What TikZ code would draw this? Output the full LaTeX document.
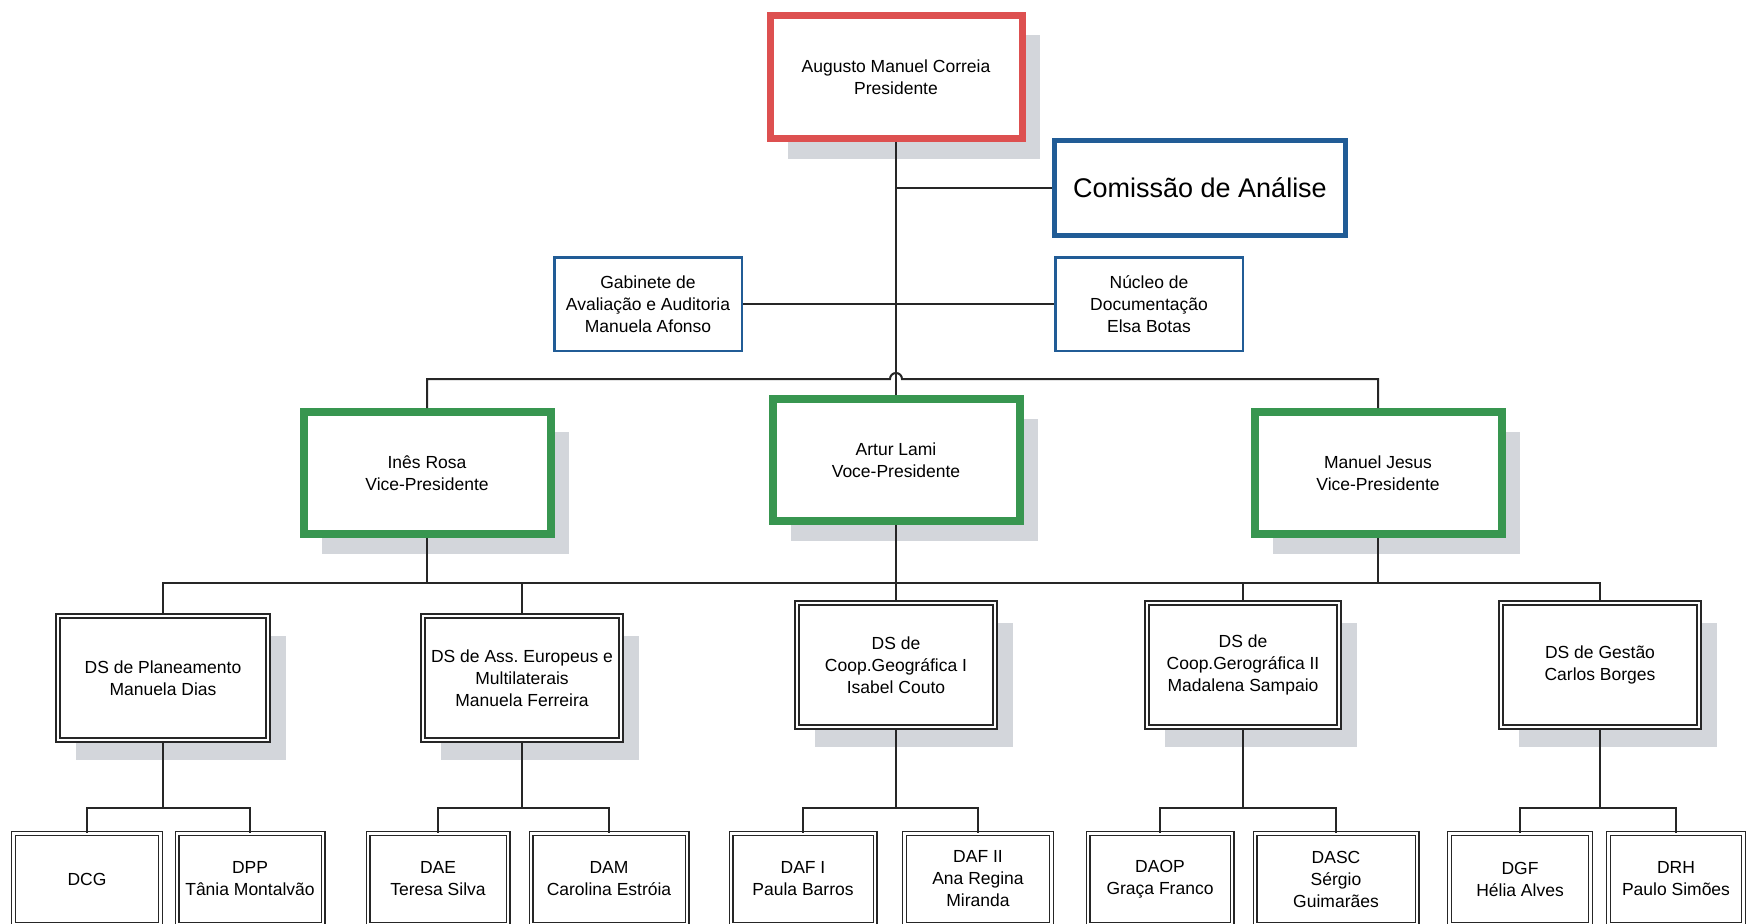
\documentclass[tikz,border=0pt]{standalone}
\usepackage{fontspec}
\setmainfont{Liberation Sans}
\usetikzlibrary{positioning,shadows}
\frenchspacing

\definecolor{presred}{RGB}{221,80,80}
\definecolor{comblue}{RGB}{33,92,150}
\definecolor{vpgreen}{RGB}{56,150,80}
\definecolor{shadegray}{RGB}{211,214,219}

\newcommand{\orgfont}{\fontsize{17.5}{22}\selectfont}

\tikzset{
  box/.style={draw, fill=white, align=center, font=\orgfont, inner sep=2pt},
  boxshadow/.style={drop shadow={shadow xshift=18pt, shadow yshift=-20pt, fill=shadegray, opacity=1}},
  presbox/.style={box, boxshadow, draw=presred, line width=7pt, minimum width=252pt, minimum height=123pt},
  combox/.style={box, draw=comblue, line width=5pt, minimum width=291pt, minimum height=95pt, font=\fontsize{27}{32}\selectfont},
  unitbox/.style={box, draw=comblue, line width=2.5pt, minimum width=187.5pt, minimum height=93.5pt},
  vpbox/.style={box, boxshadow, draw=vpgreen, line width=8pt, minimum width=247pt, minimum height=122pt},
  dsbox/.style={box, boxshadow, draw=black!85, double, line width=1.6pt, double distance=2.4pt, minimum height=124.5pt},
  depbox/.style={box, draw=black!85, double, line width=1.3pt, double distance=2.4pt, minimum height=91pt},
  link/.style={draw=black!85, line width=2pt}
}

\begin{document}
\begin{tikzpicture}[x=1pt, y=-1pt]
    \path[use as bounding box, fill=white] (0,0) rectangle (1747,923);

    % Presidencia
    \node[presbox] (pres) at (896,77) {Augusto Manuel Correia\\Presidente};
    \node[combox] (comis) at (1200,188) {Comissão de Análise};

    % Gabinete e Nucleo
    \node[unitbox] (gab) at (648,304) {Gabinete de\\Avaliação e Auditoria\\Manuela Afonso};
    \node[unitbox] (nuc) at (1149,304) {Núcleo de\\Documentação\\Elsa Botas};

    % Vice-presidentes
    \node[vpbox] (ines) at (427,473) {Inês Rosa\\Vice-Presidente};
    \node[vpbox] (artur) at (896,460) {Artur Lami\\Voce-Presidente};
    \node[vpbox] (manuel) at (1378,473) {Manuel Jesus\\Vice-Presidente};

    % Direccoes de servicos
    \node[dsbox, minimum width=210.5pt] (dsplan) at (163,678) {DS de Planeamento\\Manuela Dias};
    \node[dsbox, minimum width=197.5pt] (dseur) at (522,678) {DS de Ass. Europeus e\\Multilaterais\\Manuela Ferreira};
    \node[dsbox, minimum width=198.5pt] (dscoopa) at (896,665) {DS de\\Coop.Geográfica I\\Isabel Couto};
    \node[dsbox, minimum width=192.5pt] (dscoopb) at (1243,665) {DS de\\Coop.Gerográfica II\\Madalena Sampaio};
    \node[dsbox, minimum width=197.5pt] (dsgest) at (1600,665) {DS de Gestão\\Carlos Borges};

    % Direccoes
    \node[depbox, minimum width=147pt] (dcg) at (87,879) {DCG};
    \node[depbox, minimum width=146pt] (dpp) at (250,879) {DPP\\Tânia Montalvão};
    \node[depbox, minimum width=140pt] (dae) at (438,879) {DAE\\Teresa Silva};
    \node[depbox, minimum width=156pt] (dam) at (609,879) {DAM\\Carolina Estróia};
    \node[depbox, minimum width=144pt] (dafa) at (803,879) {DAF I\\Paula Barros};
    \node[depbox, minimum width=147pt] (dafb) at (978,879) {DAF II\\Ana Regina\\Miranda};
    \node[depbox, minimum width=144pt] (daop) at (1160,879) {DAOP\\Graça Franco};
    \node[depbox, minimum width=162pt] (dasc) at (1336,879) {DASC\\Sérgio\\Guimarães};
    \node[depbox, minimum width=141pt] (dgf) at (1520,879) {DGF\\Hélia Alves};
    \node[depbox, minimum width=135pt] (drh) at (1676,879) {DRH\\Paulo Simões};

    % Barramentos
    \coordinate (vpbus) at (896,379);
    \coordinate (dsbus) at (896,583);
    \coordinate (subbus) at (896,808);

    % Ligacoes topo
    \draw[link] (pres.south) -- (artur.north);
    \draw[link] (pres.south |- comis.west) -- (comis.west);
    \draw[link] (gab.east) -- (nuc.west);
    \draw[link] (ines.north) -- (ines.north |- vpbus) -- ([xshift=-6pt]vpbus)
        arc[start angle=180, end angle=360, radius=6] -- (manuel.north |- vpbus) -- (manuel.north);

    % Ligacoes vice-presidentes
    \draw[link] (ines.south) -- (ines.south |- dsbus);
    \draw[link] (artur.south) -- (artur.south |- dsbus);
    \draw[link] (manuel.south) -- (manuel.south |- dsbus);
    \draw[link] (dsplan.north) -- (dsplan.north |- dsbus) -- (dsgest.north |- dsbus) -- (dsgest.north);
    \draw[link] (dseur.north) -- (dseur.north |- dsbus);
    \draw[link] (dscoopa.north) -- (dscoopa.north |- dsbus);
    \draw[link] (dscoopb.north) -- (dscoopb.north |- dsbus);

    % Ligacoes direccoes
    \draw[link] (dsplan.south) -- (dsplan.south |- subbus);
    \draw[link] (dcg.north) -- (dcg.north |- subbus) -- (dpp.north |- subbus) -- (dpp.north);
    \draw[link] (dseur.south) -- (dseur.south |- subbus);
    \draw[link] (dae.north) -- (dae.north |- subbus) -- (dam.north |- subbus) -- (dam.north);
    \draw[link] (dscoopa.south) -- (dscoopa.south |- subbus);
    \draw[link] (dafa.north) -- (dafa.north |- subbus) -- (dafb.north |- subbus) -- (dafb.north);
    \draw[link] (dscoopb.south) -- (dscoopb.south |- subbus);
    \draw[link] (daop.north) -- (daop.north |- subbus) -- (dasc.north |- subbus) -- (dasc.north);
    \draw[link] (dsgest.south) -- (dsgest.south |- subbus);
    \draw[link] (dgf.north) -- (dgf.north |- subbus) -- (drh.north |- subbus) -- (drh.north);
\end{tikzpicture}
\end{document}
